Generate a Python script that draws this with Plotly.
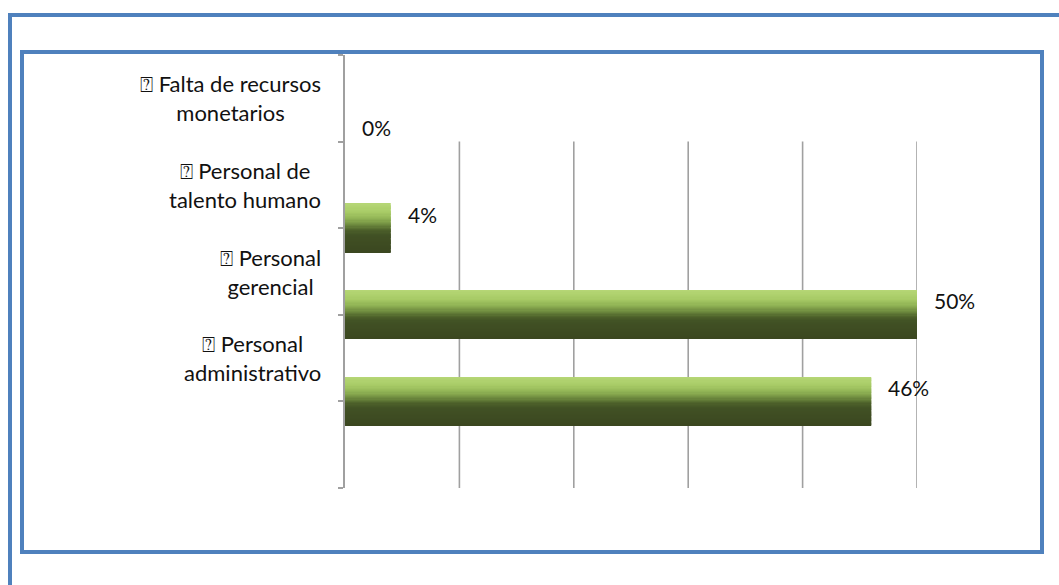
import plotly.graph_objects as go

# Categories (top to bottom) and their shares in percent
categories = [
    "⍰ Falta de recursos<br>monetarios",
    "⍰ Personal de<br>talento humano",
    "⍰ Personal<br>gerencial",
    "⍰ Personal<br>administrativo",
]
values = [0, 4, 50, 46]
value_labels = ["0%", "4%", "50%", "46%"]

# Row positions of the bars on the category axis
bar_pos = [1, 2, 3, 4]
label_pos = [0.5, 1.5, 2.5, 3.5]

W, H = 1059, 585
BAR_W = 0.56

# Colour stops for the vertical shading of the bars (top -> bottom)
stops = [
    (0.00, (0xb6, 0xd7, 0x76)),
    (0.18, (0xa8, 0xcb, 0x66)),
    (0.32, (0x8f, 0xb2, 0x54)),
    (0.45, (0x6c, 0x88, 0x3d)),
    (0.55, (0x4c, 0x60, 0x2a)),
    (0.65, (0x41, 0x51, 0x24)),
    (1.00, (0x3b, 0x47, 0x20)),
]


def shade_at(t):
    for (t0, c0), (t1, c1) in zip(stops[:-1], stops[1:]):
        if t <= t1:
            f = (t - t0) / (t1 - t0)
            return "rgb(%d,%d,%d)" % tuple(round(a + (b - a) * f) for a, b in zip(c0, c1))
    return "rgb(%d,%d,%d)" % stops[-1][1]


fig = go.Figure()
n = 40
step = BAR_W / n
for i in range(n):
    fig.add_trace(go.Bar(
        x=values, y=bar_pos, orientation="h",
        width=[step * 1.5] * len(values) if i < n - 1 else [step] * len(values),
        offset=[-BAR_W / 2 + i * step] * len(values),
        marker=dict(color=shade_at((i + 0.5) / n), line=dict(width=0)),
        hoverinfo="skip", showlegend=False,
    ))

annotations = []
for lab, yp in zip(categories, label_pos):
    annotations.append(dict(
        x=323 / W, y=yp, xref="paper", yref="y", text=lab, showarrow=False,
        xanchor="right", yanchor="middle", align="center",
        font=dict(family="Lato", size=22, color="#111111"),
    ))
for v, lab, yp in zip(values, value_labels, bar_pos):
    annotations.append(dict(
        x=v, y=yp, xref="x", yref="y", text=lab, showarrow=False,
        xanchor="left", yanchor="middle", xshift=15, yshift=14,
        font=dict(family="Lato", size=21, color="#111111"),
    ))

grid_color = "#a0a0a0"
shapes = []
for gx in [10, 20, 30, 40, 50]:
    shapes.append(dict(type="line", xref="x", yref="y", x0=gx, x1=gx, y0=1, y1=5,
                       line=dict(color=grid_color, width=1.6), layer="below"))

# Double blue frame
blue = "#4f81bd"
shapes.append(dict(type="rect", xref="paper", yref="paper",
                   x0=10 / W, x1=1100 / W, y0=1 - 640 / H, y1=1 - 15 / H,
                   line=dict(color=blue, width=4)))
shapes.append(dict(type="rect", xref="paper", yref="paper",
                   x0=22 / W, x1=1042 / W, y0=1 - 552 / H, y1=1 - 52 / H,
                   line=dict(color=blue, width=4)))

fig.update_layout(
    width=W, height=H,
    margin=dict(l=0, r=0, t=0, b=0),
    paper_bgcolor="white", plot_bgcolor="white",
    barmode="overlay",
    annotations=annotations,
    shapes=shapes,
    xaxis=dict(range=[0, 50], domain=[345 / W, 917 / W], showgrid=False,
               showticklabels=False, zeroline=False, showline=False, fixedrange=True),
    yaxis=dict(range=[5, 0], domain=[1 - 488 / H, 1 - 55 / H], showgrid=False,
               showticklabels=False, zeroline=False, showline=True,
               linecolor=grid_color, linewidth=1.6,
               tickmode="array", tickvals=[0, 1, 2, 3, 4, 5],
               ticks="outside", ticklen=5, tickcolor=grid_color, tickwidth=1.6,
               fixedrange=True),
)

fig.write_html("out.html")
